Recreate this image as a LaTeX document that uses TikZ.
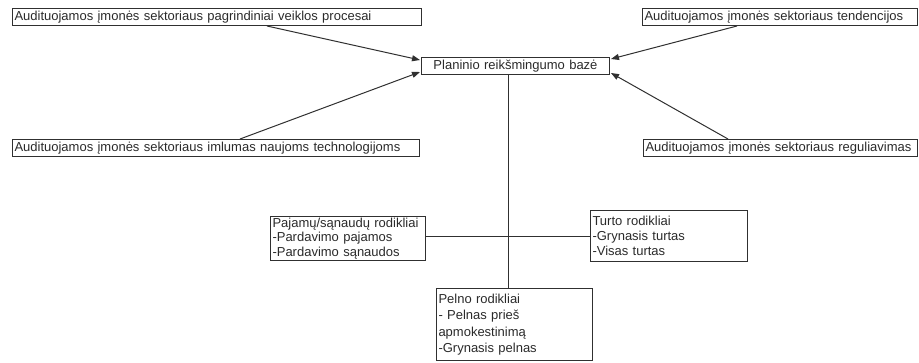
\documentclass[tikz,border=0pt]{standalone}
\usepackage{fontspec}
\setmainfont{Liberation Sans}
\usetikzlibrary{arrows.meta,calc}
\definecolor{ln}{HTML}{303030}
\definecolor{tx}{HTML}{2A2A2A}
\tikzset{
  box/.style={draw=ln, line width=1pt, anchor=north west, inner xsep=2pt, inner ysep=0pt,
    font=\fontsize{13}{16.5}\selectfont, text=tx, align=left},
  tight/.style={font=\fontsize{13}{14.8}\selectfont},
  arr/.style={draw=ln, line width=1pt, -{Triangle[length=8pt,width=6pt]}},
  con/.style={draw=ln, line width=1pt}
}
\begin{document}
\begin{tikzpicture}[x=1pt,y=-1pt]
\useasboundingbox (0,0) rectangle (919,362);
% top / side boxes
\node[box, text width=405pt, minimum height=17pt] (b1) at (12,8) {Audituojamos įmonės sektoriaus pagrindiniai veiklos procesai};
\node[box, text width=271pt, minimum height=17pt] (b2) at (642,8) {Audituojamos įmonės sektoriaus tendencijos};
\node[box, text width=403pt, minimum height=17pt] (b3) at (12,139) {Audituojamos įmonės sektoriaus imlumas naujoms technologijoms};
\node[box, text width=270pt, minimum height=17pt] (b4) at (643,139) {Audituojamos įmonės sektoriaus reguliavimas};
% centre box
\node[box, align=center, text width=184pt, minimum height=17pt] (c) at (421,57) {Planinio reikšmingumo bazė};
% indicator boxes
\node[box, tight, text width=151pt, minimum height=44pt] (pa) at (270,216) {Pajamų/sąnaudų rodikliai\\-Pardavimo pajamos\\-Pardavimo sąnaudos};
\node[box, tight, text width=153pt, minimum height=51pt] (tu) at (590,210) {Turto rodikliai\\-Grynasis turtas\\-Visas turtas};
\node[box, text width=152pt, minimum height=72pt] (pe) at (436,288) {Pelno rodikliai\\- Pelnas prieš\\apmokestinimą\\-Grynasis pelnas};
% arrows into centre
\draw[arr] ($(b1.south west)+(255,0)$) -- ($(c.north west)+(-1,3)$);
\draw[arr] ($(b3.north west)+(228,0)$) -- ($(c.south west)+(-1,-3)$);
\draw[arr] ($(b2.south west)+(95,0)$) -- ($(c.north east)+(1,2)$);
\draw[arr] ($(b4.north west)+(85,0)$) -- ($(c.south east)+(1,-2)$);
% connectors to indicator boxes
\coordinate (v) at ($(c.south west)+(87,0)$);
\draw[con] (v) -- (v |- pe.north);
\draw[con] (tu.west) -- (tu.west -| pa.east);
\end{tikzpicture}
\end{document}
